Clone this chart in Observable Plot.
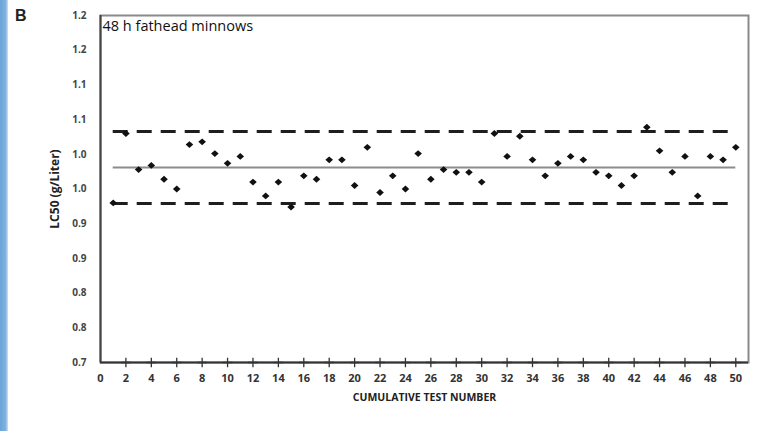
<!DOCTYPE html>
<html>
<head>
<meta charset="utf-8">
<script src="https://cdn.jsdelivr.net/npm/d3@7"></script>
<script src="https://cdn.jsdelivr.net/npm/@observablehq/plot@0.6"></script>
<style>
  html, body { margin: 0; padding: 0; background: #fff; }
  #wrap { position: relative; width: 783px; height: 431px; overflow: hidden; background: #fff; }
  #strip { position: absolute; left: 0; top: 0; width: 8px; height: 431px;
           background: linear-gradient(to right, #6aa3d8 0%, #7fb2e0 70%, #cfe2f3 100%); }
  #panel { position: absolute; left: 15px; top: 7px; font: bold 16px "Liberation Sans", Arial, sans-serif; color: #222; }
  #chart { position: absolute; left: 0; top: 0; }
</style>
</head>
<body>
<div id="wrap">
  <div id="strip"></div>
  <div id="chart"></div>
  <div id="panel">B</div>
</div>
<script>
// Data
const tests = [1,2,3,4,5,6,7,8,9,10,11,12,13,14,15,16,17,18,19,20,21,22,23,24,25,
               26,27,28,29,30,31,32,33,34,35,36,37,38,39,40,41,42,43,44,45,46,47,48,49,50];
const lc50 = [0.930,1.030,0.978,0.984,0.964,0.950,1.014,1.018,1.001,0.987,
              0.997,0.960,0.940,0.960,0.924,0.969,0.964,0.992,0.992,0.955,
              1.010,0.945,0.969,0.950,1.001,0.964,0.978,0.974,0.974,0.960,
              1.030,0.997,1.026,0.992,0.969,0.987,0.997,0.992,0.974,0.969,
              0.955,0.969,1.039,1.005,0.974,0.997,0.940,0.997,0.992,1.010];
const meanLine = [0.981];
const controlLimits = [1.033, 0.929];
const yTicks = [0.70,0.75,0.80,0.85,0.90,0.95,1.00,1.05,1.10,1.15,1.20];
const yTickLabels = ["0.7","0.8","0.8","0.9","0.9","1.0","1.0","1.1","1.1","1.2","1.2"];
const xTicks = [0,2,4,6,8,10,12,14,16,18,20,22,24,26,28,30,32,34,36,38,40,42,44,46,48,50];
const annotation = ["48 h fathead minnows"];

const [xFirst, xLast] = d3.extent(tests);
const yLabel = d => {
  let best = 0;
  yTicks.forEach((t, i) => { if (Math.abs(t - d) < Math.abs(yTicks[best] - d)) best = i; });
  return yTickLabels[best];
};
// wide diamond marker
const wideDiamond = {
  draw(ctx, size) {
    const r = Math.sqrt(size / Math.PI);
    ctx.moveTo(0, -r * 0.9);
    ctx.lineTo(r, 0);
    ctx.lineTo(0, r * 0.9);
    ctx.lineTo(-r, 0);
    ctx.closePath();
  }
};

const chart = Plot.plot({
  width: 783,
  height: 431,
  marginLeft: 100,
  marginRight: 35,
  marginTop: 15,
  marginBottom: 69,
  style: { fontFamily: "'Open Sans', 'Liberation Sans', sans-serif", background: "transparent", overflow: "visible" },
  x: { domain: [0, 51] },
  y: { domain: [0.70, 1.20] },
  marks: [
    Plot.frame({ stroke: "#8a8a8a", strokeWidth: 2 }),
    Plot.axisY({ ticks: yTicks, tickFormat: yLabel, tickSize: 0, tickPadding: 14,
                 fontSize: 10, fontWeight: "bold", fill: "#444",
                 label: "LC50 (g/Liter)", labelAnchor: "center", labelArrow: "none", labelOffset: 50 }),
    Plot.axisX({ ticks: xTicks, tickSize: 0, tickPadding: 12,
                 fontSize: 11, fontWeight: "bold", fill: "#333",
                 label: "CUMULATIVE TEST NUMBER", labelAnchor: "center", labelArrow: "none", labelOffset: 38 }),
    Plot.ruleX([0], { stroke: "#444", strokeWidth: 2 }),
    Plot.ruleY([0.70], { stroke: "#333", strokeWidth: 2 }),
    Plot.dot(xTicks.filter(d => d > 0), { x: d => d, frameAnchor: "bottom", symbol: "plus", r: 3.2, stroke: "#333", strokeWidth: 1.3 }),
    Plot.ruleY(meanLine, { y: d => d, x1: xFirst, x2: xLast, stroke: "#8c8c8c", strokeWidth: 2 }),
    Plot.ruleY(controlLimits, { y: d => d, x1: xFirst, x2: xLast, stroke: "#1e1e1e", strokeWidth: 3, strokeDasharray: "15,9" }),
    Plot.dot(lc50, { x: (d, i) => tests[i], y: d => d, symbol: wideDiamond, r: 3.8, fill: "#111", stroke: "none" }),
    Plot.text(annotation, { frameAnchor: "top-left", text: d => d, dx: 2, dy: 5, fontSize: 14.5, fill: "#111", textAnchor: "start" })
  ]
});
const svg = d3.select(chart);
svg.selectAll("g[aria-label='y-axis tick label'] text").attr("font-size", 10).attr("font-weight", "bold");
svg.select("g[aria-label='y-axis tick label']").attr("font-size", 10).attr("font-weight", "bold");
svg.select("g[aria-label='x-axis tick label']").attr("font-size", 11).attr("font-weight", "bold");
svg.selectAll("g[aria-label='y-axis label'] text, g[aria-label='x-axis label'] text")
  .attr("font-weight", "bold").attr("fill", "#222");
svg.select("g[aria-label='y-axis label']").attr("font-size", 12).attr("font-weight", "bold");
svg.select("g[aria-label='x-axis label']").attr("font-size", 10.5).attr("font-weight", "bold");
document.getElementById("chart").appendChild(chart);
</script>
</body>
</html>
